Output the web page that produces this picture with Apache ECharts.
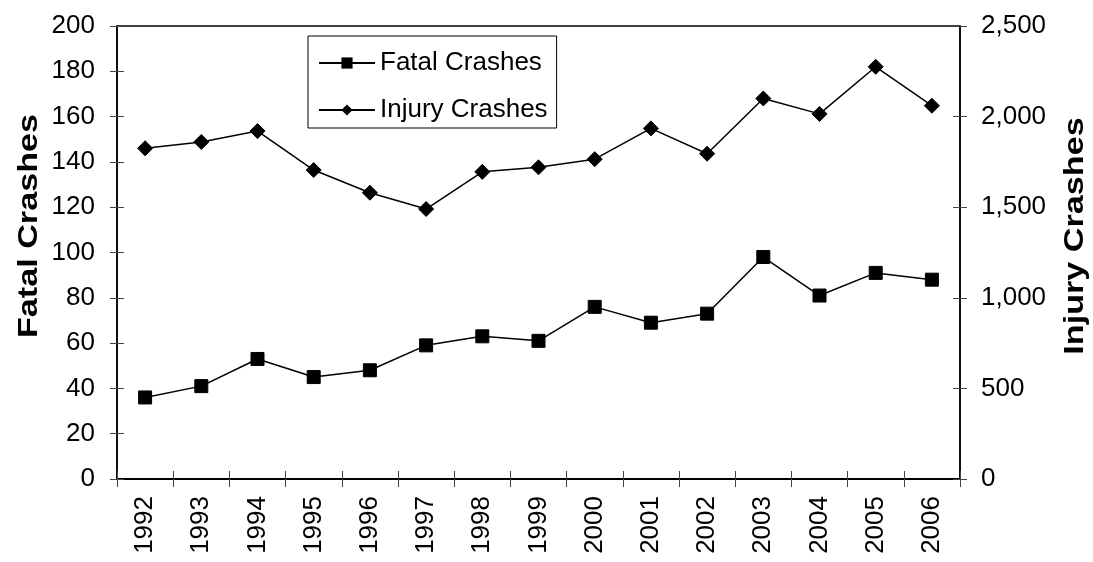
<!DOCTYPE html>
<html>
<head>
<meta charset="utf-8">
<script src="https://cdn.jsdelivr.net/npm/echarts@6/dist/echarts.min.js"></script>
<style>
  html, body { margin: 0; padding: 0; background: #fff; }
  #chart { width: 1093px; height: 562px; }
</style>
</head>
<body>
<div id="chart"></div>
<script>
// Crash counts by year
const years = ['1992','1993','1994','1995','1996','1997','1998','1999','2000','2001','2002','2003','2004','2005','2006'];
const fatalCrashes = [36, 41, 53, 45, 48, 59, 63, 61, 76, 69, 73, 98, 81, 91, 88];
const injuryCrashes = [1825, 1860, 1920, 1705, 1580, 1490, 1695, 1720, 1765, 1935, 1795, 2100, 2015, 2275, 2060];

// Axis scales
const fatalAxis = { min: 0, max: 200, interval: 20 };
const injuryAxis = { min: 0, max: 2500, interval: 500 };

const FONT = "'Liberation Sans', Arial, sans-serif";
const BLACK = '#000';

const chart = echarts.init(document.getElementById('chart'), null, { renderer: 'canvas' });

const commaFmt = v => String(v).replace(/\B(?=(\d{3})+(?!\d))/g, ',');

// Ticks that cross each axis: one axis draws the outer half, a twin draws the inner half
function valueAxis(pos, scale, opts) {
  return Object.assign({
    type: 'value',
    position: pos,
    min: scale.min,
    max: scale.max,
    interval: scale.interval,
    splitLine: { show: false },
    axisLine: { show: false },
    axisTick: { show: false },
    axisLabel: { show: false }
  }, opts);
}

const option = {
  animation: false,
  backgroundColor: '#fff',
  textStyle: { fontFamily: FONT, color: BLACK },
  grid: {
    left: 117, right: 133, top: 26, bottom: 83,
    show: true,
    borderColor: BLACK,
    borderWidth: 1.5,
    backgroundColor: 'transparent',
    containLabel: false,
    outerBoundsMode: 'none'
  },
  legend: {
    orient: 'vertical',
    left: 308,
    top: 36,
    padding: [12, 9, 3, 10],
    itemGap: 17,
    itemWidth: 56,
    itemHeight: 14,
    borderColor: BLACK,
    borderWidth: 1,
    backgroundColor: '#fff',
    textStyle: { fontFamily: FONT, fontSize: 26, color: BLACK, lineHeight: 30 },
    data: ['Fatal Crashes', 'Injury Crashes']
  },
  xAxis: [
    {
      type: 'category',
      position: 'bottom',
      data: years,
      boundaryGap: true,
      axisLine: { show: true, onZero: false, lineStyle: { color: BLACK, width: 2 } },
      axisTick: { show: true, inside: false, length: 8, lineStyle: { color: '#444', width: 1 } },
      axisLabel: { rotate: 90, margin: 17, fontSize: 26, color: BLACK, fontFamily: FONT, interval: 0 },
      splitLine: { show: false }
    },
    {
      type: 'category',
      position: 'bottom',
      data: years,
      boundaryGap: true,
      axisLine: { show: false, onZero: false },
      axisTick: { show: true, inside: true, length: 8, lineStyle: { color: '#444', width: 1 } },
      axisLabel: { show: false },
      splitLine: { show: false }
    }
  ],
  yAxis: [
    valueAxis('left', fatalAxis, {
      axisLine: { show: true, lineStyle: { color: BLACK, width: 1.5 } },
      axisTick: { show: true, inside: false, length: 7, lineStyle: { color: '#444', width: 1 } },
      axisLabel: { show: true, margin: 22, fontSize: 26, color: BLACK, fontFamily: FONT }
    }),
    valueAxis('right', injuryAxis, {
      axisLine: { show: true, lineStyle: { color: BLACK, width: 1.5 } },
      axisTick: { show: true, inside: false, length: 7, lineStyle: { color: '#444', width: 1 } },
      axisLabel: { show: true, margin: 21, fontSize: 26, color: BLACK, fontFamily: FONT, formatter: commaFmt }
    }),
    valueAxis('left', fatalAxis, {
      axisTick: { show: true, inside: true, length: 7, lineStyle: { color: '#444', width: 1 } }
    }),
    valueAxis('right', injuryAxis, {
      axisTick: { show: true, inside: true, length: 7, lineStyle: { color: '#444', width: 1 } }
    })
  ],
  graphic: [
    {
      type: 'text',
      x: 29, y: 226,
      rotation: Math.PI / 2,
      scaleX: 1.22,
      style: { text: 'Fatal Crashes', fontFamily: FONT, fontSize: 28, fontWeight: 'bold', fill: BLACK, align: 'center', verticalAlign: 'middle' }
    },
    {
      type: 'text',
      x: 1075, y: 236,
      rotation: Math.PI / 2,
      scaleX: 1.22,
      style: { text: 'Injury Crashes', fontFamily: FONT, fontSize: 28, fontWeight: 'bold', fill: BLACK, align: 'center', verticalAlign: 'middle' }
    }
  ],
  series: [
    {
      name: 'Fatal Crashes',
      type: 'line',
      xAxisIndex: 0,
      yAxisIndex: 0,
      data: fatalCrashes,
      symbol: 'rect',
      symbolSize: 13,
      lineStyle: { color: BLACK, width: 1.5 },
      itemStyle: { color: BLACK, borderColor: BLACK },
      emphasis: { disabled: true }
    },
    {
      name: 'Injury Crashes',
      type: 'line',
      xAxisIndex: 0,
      yAxisIndex: 1,
      data: injuryCrashes,
      symbol: 'diamond',
      symbolSize: 15,
      lineStyle: { color: BLACK, width: 1.5 },
      itemStyle: { color: BLACK, borderColor: BLACK },
      emphasis: { disabled: true }
    }
  ]
};

chart.setOption(option);
</script>
</body>
</html>
